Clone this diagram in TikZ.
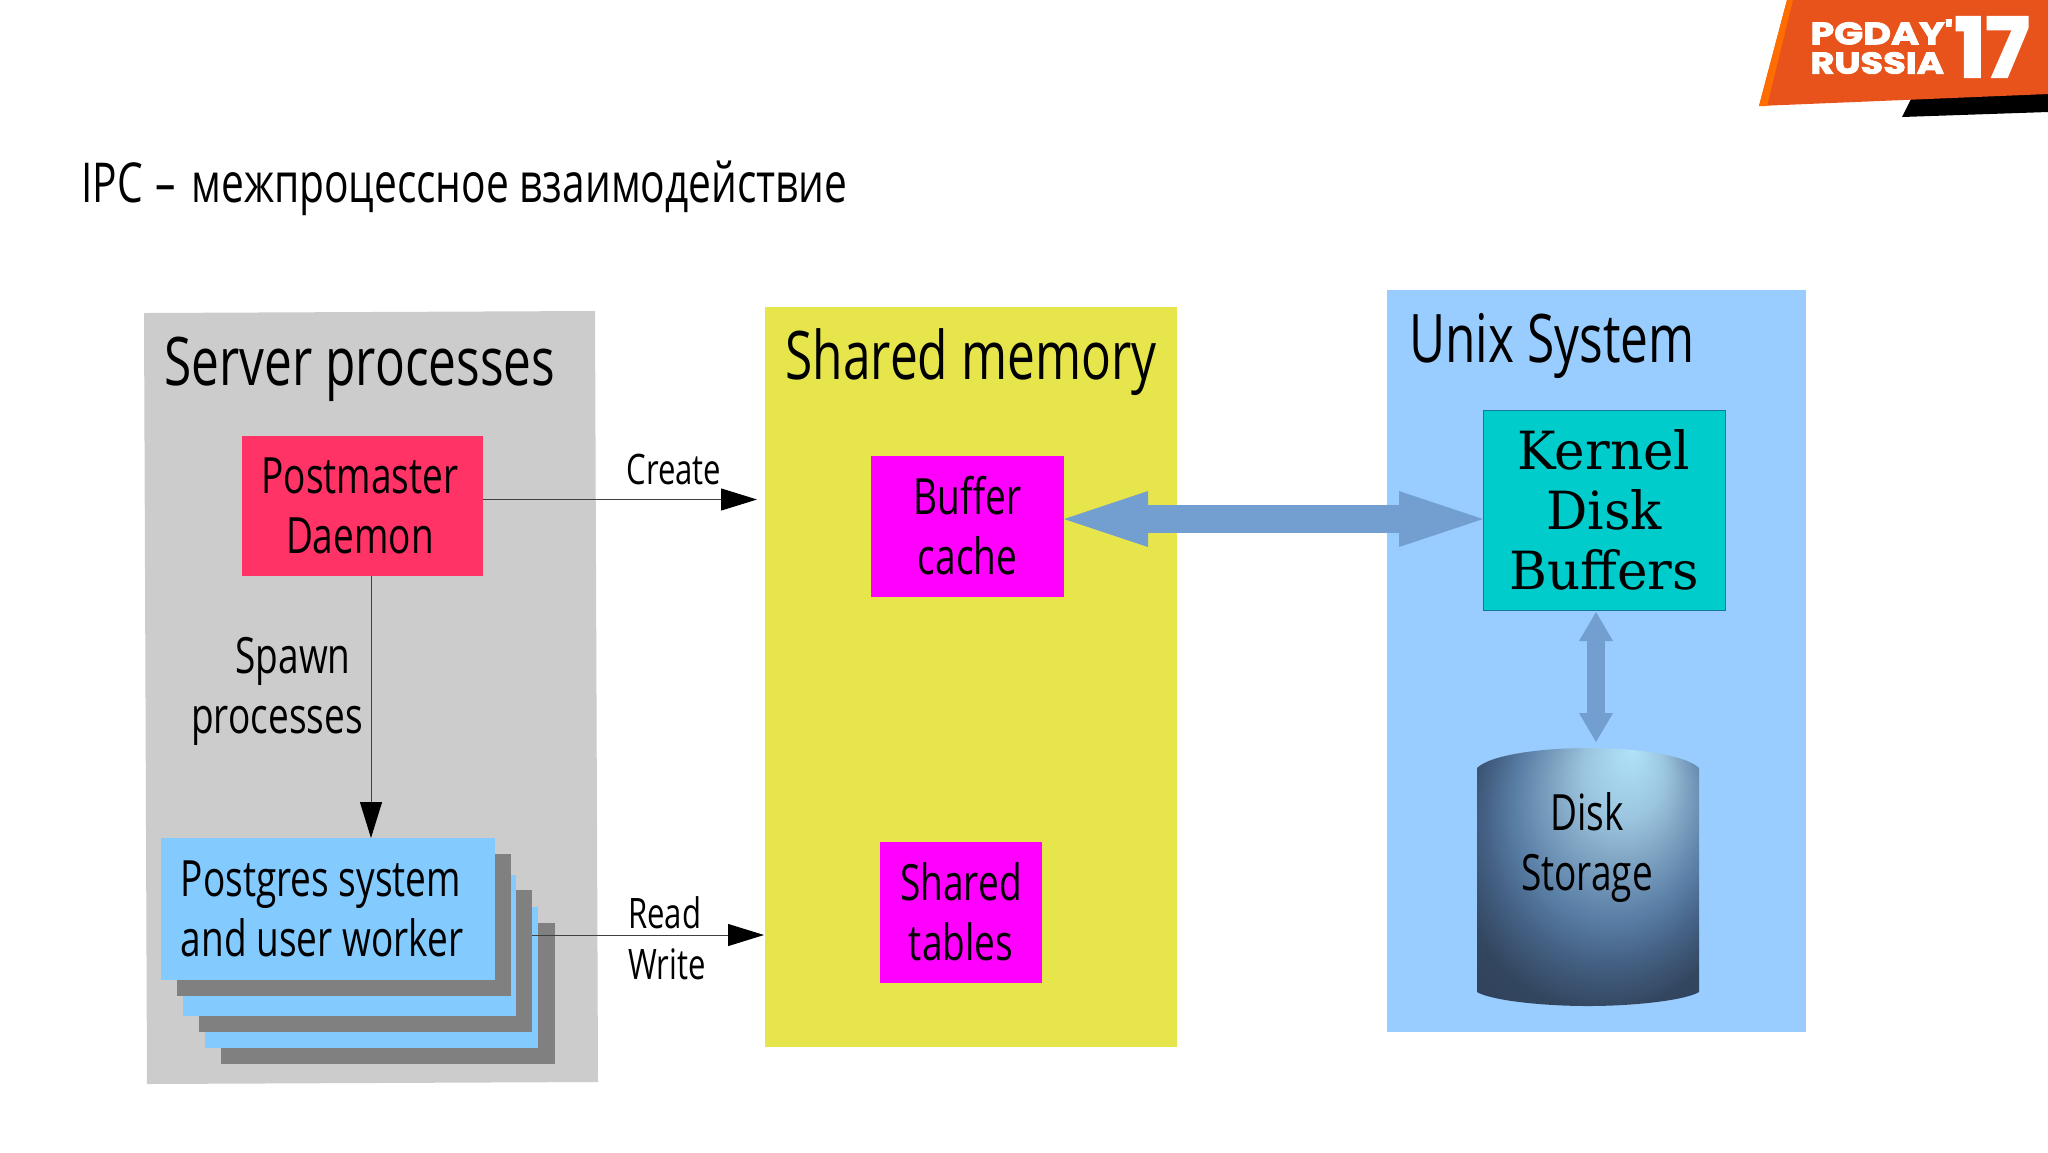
\documentclass[tikz,border=0pt]{standalone}
\usepackage{fontspec}
\setmainfont{Open Sans}
\newfontfamily\cond[FakeStretch=0.74]{Open Sans}
\newfontfamily\kser[FakeStretch=0.98]{DejaVu Serif}
\newfontfamily\logof[BoldFeatures={FakeBold=3}]{Poppins}
\newfontfamily\logow[FakeStretch=1.23,BoldFeatures={FakeStretch=1.23,FakeBold=3}]{Poppins}
\usetikzlibrary{arrows.meta,calc}
\definecolor{cgrey}{HTML}{CCCCCC}
\definecolor{cyellow}{HTML}{E6E64C}
\definecolor{cblue}{HTML}{99CCFF}
\definecolor{cworker}{HTML}{83CAFF}
\definecolor{cstack}{HTML}{808080}
\definecolor{cpost}{HTML}{FF3366}
\definecolor{cmag}{HTML}{FF00FF}
\definecolor{ckern}{HTML}{00CCCC}
\definecolor{carrow}{HTML}{729FCF}
\definecolor{corange}{HTML}{E8531B}
\definecolor{cstrip}{HTML}{FF6D00}
\definecolor{cyla}{HTML}{B0E2FA}
\definecolor{cylb}{HTML}{9CC6E0}
\definecolor{cylc}{HTML}{7FA3C2}
\definecolor{cyld}{HTML}{5A7FA6}
\definecolor{cyle}{HTML}{435F82}
\definecolor{cylf}{HTML}{33465F}
\definecolor{cylg}{HTML}{2A3A55}
\pgfdeclareradialshading{cylsh}{\pgfpoint{10bp}{25bp}}{
  color(0bp)=(cyla); color(9bp)=(cylb); color(15bp)=(cylc); color(22bp)=(cyld); color(28bp)=(cyle); color(34bp)=(cylf); color(50bp)=(cylg)}
\tikzset{
  panel/.style={fill=#1,draw=none},
  box/.style={fill=#1,draw=none,inner sep=0pt,align=center,text=black},
  head/.style={font=\cond\fontsize{33.5}{38}\selectfont,inner sep=0pt},
  body/.style={font=\cond\fontsize{25}{30}\selectfont},
  small/.style={font=\cond\fontsize{21}{25.5}\selectfont,inner sep=0pt},
  thin arrow/.style={draw=black!75,line width=.5pt,-{Triangle[length=18pt,width=11pt,color=black,fill=black]}},
  fat arrow/.style 2 args={draw=carrow,{Triangle[length=#1,width=#2,line width=0pt,color=carrow,fill=carrow]}-{Triangle[length=#1,width=#2,line width=0pt,color=carrow,fill=carrow]}},
}
\begin{document}
\begin{tikzpicture}[x=0.5pt,y=-0.5pt]
\useasboundingbox[fill=white] (0,0) rectangle (2048,1152);
% logo
\fill[black] (1911,99) -- (1902,117) -- (2048,112) -- (2048,90) -- cycle;
\fill[corange] (1787,0) -- (2048,0) -- (2048,94) -- (1759,106) -- cycle;
\fill[cstrip] (1787,0) -- (1793,0) -- (1767,106) -- (1759,106) -- cycle;
\node[text=white,font=\logow\bfseries\fontsize{15.5}{16}\selectfont,anchor=west,inner sep=0pt] (pg) at (1810,32) {PGDAY'};
\node[text=white,font=\logow\bfseries\fontsize{15}{16}\selectfont,anchor=west,inner sep=0pt] (ru) at (1810,63) {RUSSIA};
\node[text=white,font=\logof\bfseries\fontsize{41}{41}\selectfont,anchor=center,inner sep=0pt] (yr) at (1992,47) {17};
% title
\node[font=\cond\fontsize{27.5}{32}\selectfont,anchor=west,inner sep=0pt] (title) at (81,188) {IPC\hspace{1pt} –\hspace{2.5pt} межпроцессное взаимодействие};
% panels
\fill[cgrey] (144,313) -- (595,311) -- (598,1082) -- (147,1084) -- cycle;
\fill[cyellow] (765,307) rectangle (1177,1047);
\fill[cblue] (1387,290) rectangle (1806,1032);
\node[head] (server) at (360,369) {Server processes};
\node[head] (shared) at (971,362) {Shared memory};
\node[head] (unix) at (1552,346) {Unix System};
% worker stack
\fill[cstack] (221,923) rectangle (554.5,1064);
\fill[cworker] (205,907) rectangle (538,1048);
\fill[cstack] (199,890) rectangle (532,1032);
\fill[cworker] (182.5,875) rectangle (516,1016);
\fill[cstack] (177,854) rectangle (510.5,996);
% boxes
\node[box=cpost,body,minimum width=120.5pt,minimum height=70pt] (post) at (362.5,506) {\hspace{-2.6pt}Postmaster\\\hspace{-2.6pt}Daemon};
\node[box=cworker,body,minimum width=167pt,minimum height=71pt,align=left] (worker) at (328,909) {Postgres system\hspace*{6pt}\\and user worker\hspace*{6pt}};
\node[box=cmag,body,minimum width=96.5pt,minimum height=70.5pt] (buffer) at (967.5,526.5) {\raisebox{1.5pt}{Buffer}\\\raisebox{1.5pt}{cache}};
\node[box=cmag,body,minimum width=81pt,minimum height=70.5pt] (tables) at (961,912.5) {\raisebox{1pt}{Shared}\\\raisebox{1pt}{tables}};
\node[box=ckern,draw={rgb,255:red,20;green,120;blue,150},line width=.4pt,font=\kser\fontsize{26.3}{30}\selectfont,minimum width=121pt,minimum height=100pt] (kernel) at (1604,510) {Kernel\\Disk\\Buffers};
% cylinder
\path[shading=cylsh] (1477,768) .. controls (1490,755) and (1540,748) .. (1588,748) .. controls (1636,748) and (1686,755) .. (1699,768) -- (1699,992) .. controls (1686,1000) and (1636,1006) .. (1588,1006) .. controls (1540,1006) and (1490,1000) .. (1477,992) -- cycle;
\node[inner sep=0pt,minimum width=111pt,minimum height=129pt] (disk) at (1588,877) {};
\node[body,align=center] (disklabel) at (1587,847) {Disk\\Storage};
% connector labels
\node[small] (create) at (674,469.5) {Create};
\node[small,align=left] (rw) at (667,938) {Read\\Write};
\node[body,inner sep=0pt,align=center] (spawn) at (277,691) {\hspace{16pt}Spawn\\processes};
% connectors
\coordinate (createend) at (757,499.5);
\coordinate (rwend) at (764,935);
\draw[thin arrow] (post.east |- createend) -- (createend);
\draw[thin arrow] (371,576) -- (371,838);
\draw[thin arrow] (532,935) -- (rwend);
\coordinate (bigl) at (1064,519);
\coordinate (bigr) at (1483,519);
\draw[fat arrow={42pt}{28pt},line width=14pt] (bigl) -- (bigr);
\coordinate (vt) at (1596,612);
\coordinate (vb) at (1596,742);
\draw[fat arrow={14.5pt}{17pt},line width=9pt] (vt) -- (vb);
\end{tikzpicture}
\end{document}
